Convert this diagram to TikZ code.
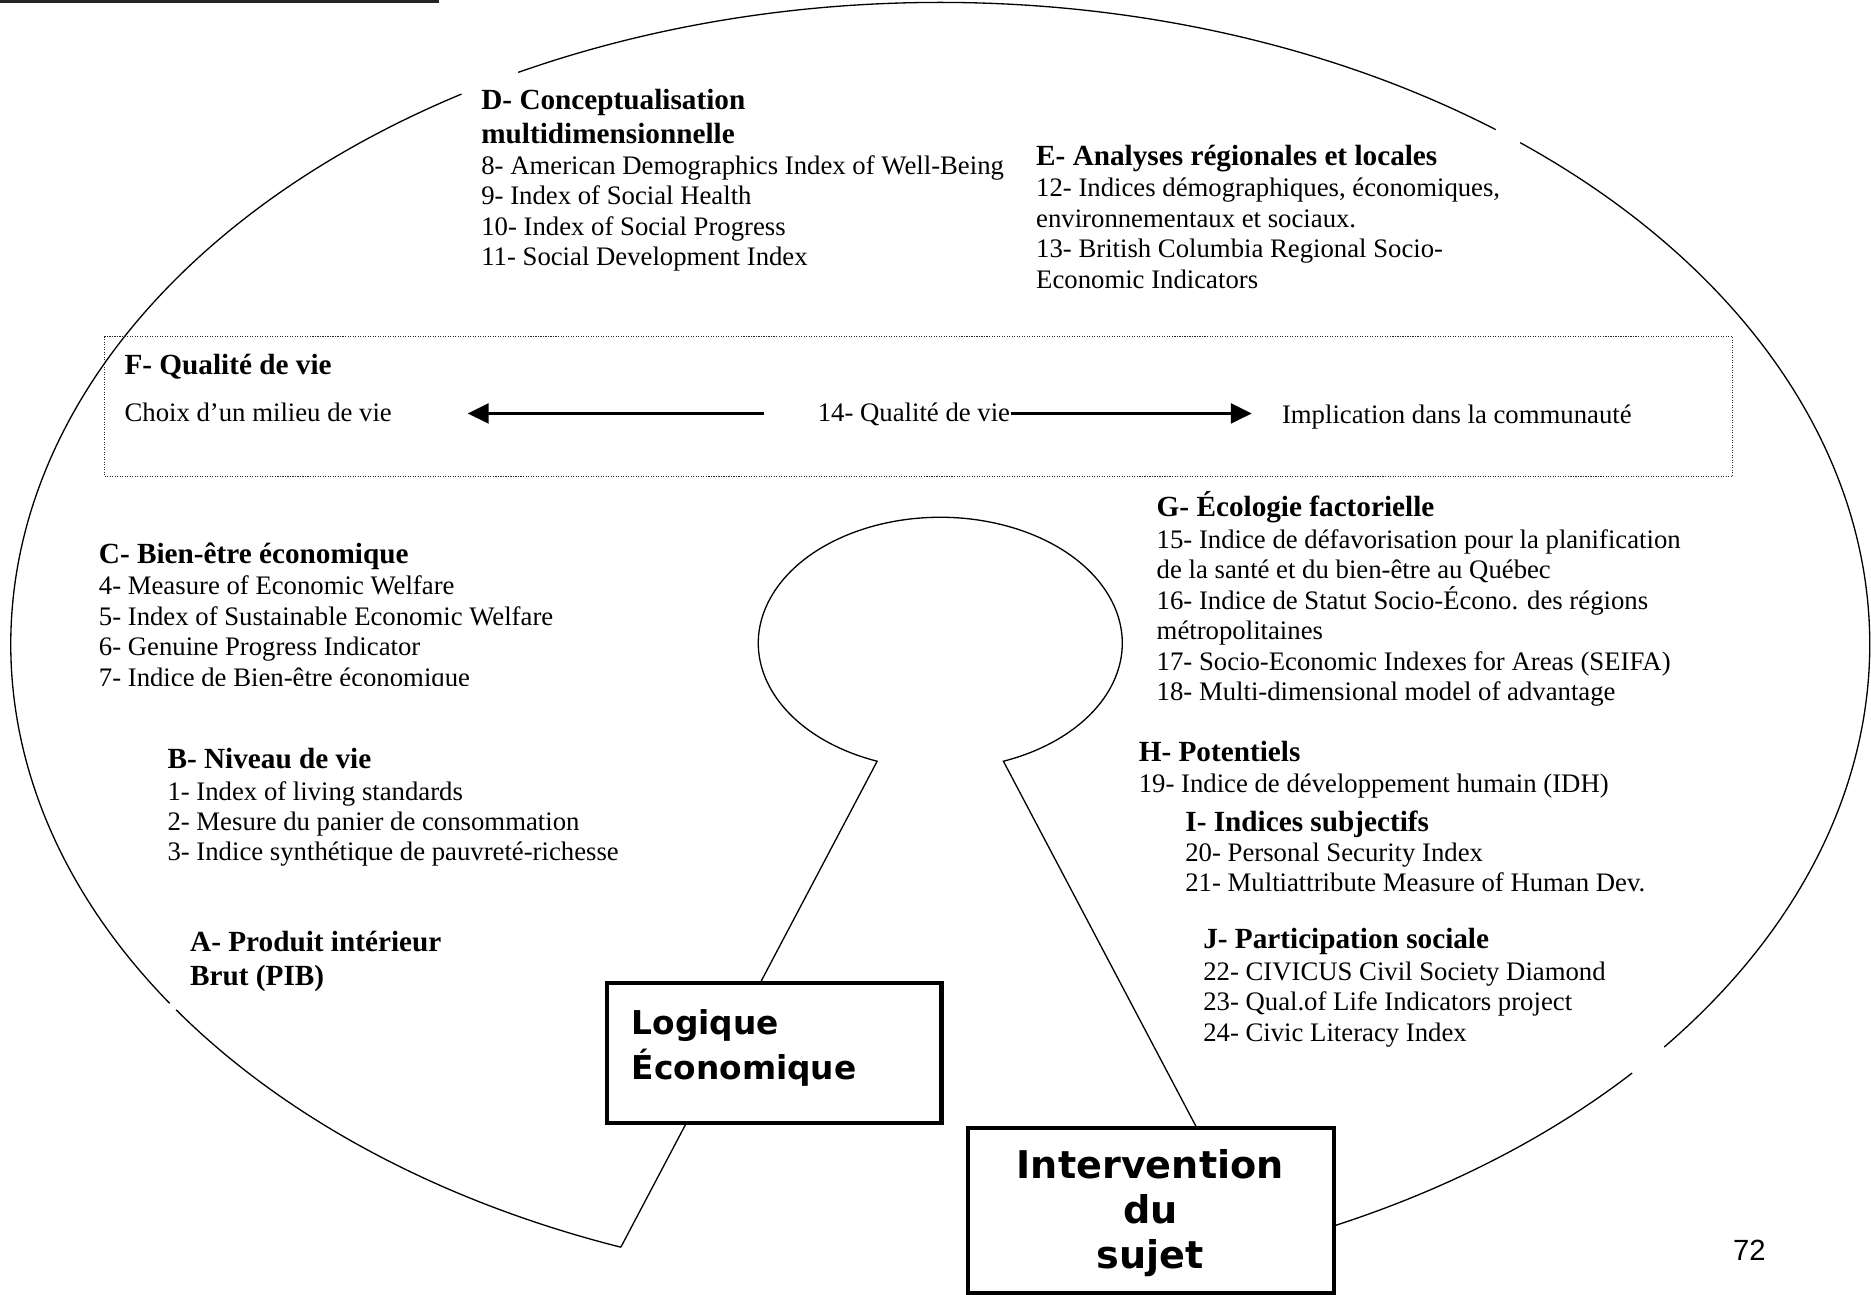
\documentclass[tikz,border=0pt]{standalone}
\usepackage{fontspec}
\setmainfont{Liberation Serif}
\newfontfamily\boxfont{DejaVu Sans}
\newfontfamily\pagefont{Liberation Sans}
\usetikzlibrary{arrows.meta}
\begin{document}
\begin{tikzpicture}[x=0.5pt,y=-0.5pt,
  body/.style={anchor=base west,inner sep=0pt,font=\fontsize{11.2}{13}\selectfont},
  head/.style={anchor=base west,inner sep=0pt,font=\fontsize{12.25}{14}\selectfont\bfseries},
  outline/.style={line width=0.55pt},
  dotbox/.style={line width=0.45pt,dash pattern=on 0.45pt off 0.6pt,black!85},
  arr/.style={line width=0.9pt,-{Triangle[length=8.75pt,width=8.4pt]}},
  bigbox/.style={draw,line width=1.7pt,fill=white,inner sep=0pt},
  boxtxt/.style={inner sep=0pt,font=\boxfont\fontsize{13.75}{17}\selectfont\bfseries},
  boxtxtb/.style={inner sep=0pt,font=\boxfont\fontsize{16}{19}\selectfont\bfseries},
]
\useasboundingbox (0,0) rectangle (1568,1085);

% top-left rule
\draw[line width=1.25pt,black!85] (0,1.5) -- (368,1.5);

% big ellipse (broken where text boxes sit)
\draw[outline] (788,540) ++(110.1:779 and 538) arc[start angle=110.1,end angle=145.3,x radius=779,y radius=538];
\draw[outline] (788,540) ++(146.0:779 and 538) arc[start angle=146.0,end angle=239.0,x radius=779,y radius=538];
\draw[outline] (788,540) ++(243.0:779 and 538) arc[start angle=243.0,end angle=306.7,x radius=779,y radius=538];
\draw[outline] (788,540) ++(308.6:779 and 538) arc[start angle=308.6,end angle=398.85,x radius=779,y radius=538];
\draw[outline] (788,540) ++(401.9:779 and 538) arc[start angle=401.9,end angle=429.9,x radius=779,y radius=538];

% keyhole
\coordinate (kbl) at (520.3,1045.2);
\coordinate (knl) at (735.1,637.95);
\coordinate (kbr) at (1055.7,1045.2);
\draw[outline] (kbl) -- (knl) arc[start angle=110.3,end angle=429.7,x radius=152.5,y radius=105.5] -- (kbr);

% dotted frame F
\draw[dotbox] (87.5,282) rectangle (1452,399.5);

% boxes
\node[bigbox,minimum width=140pt,minimum height=58.5pt] (logbox) at (649,882.5) {};
\node[bigbox,minimum width=153.5pt,minimum height=69.25pt] (intbox) at (964.5,1014.75) {};
\node[boxtxt,anchor=base west] (log1) at (529,866.6) {Logique};
\node[boxtxt,anchor=base west] (log2) at (529,904.6) {Économique};
\node[boxtxtb,anchor=base] (int1) at (964,987.5) {Intervention};
\node[boxtxtb,anchor=base] (int2) at (964,1025.2) {du};
\node[boxtxtb,anchor=base] (int3) at (964,1063) {sujet};

% D
\node[head] (dh1) at (403,92) {D- Conceptualisation};
\node[head] (dh2) at (403,120) {multidimensionnelle};
\foreach \t [count=\i from 0] in {{8- American Demographics Index of Well-Being},{9- Index of Social Health},{10- Index of Social Progress},{11- Social Development Index}}
  \node[body] (d\i) at (403,146+25.5*\i) {\t};

% E
\node[head] (eh) at (868,139) {E- Analyses régionales et locales};
\foreach \t [count=\i from 0] in {{12- Indices démographiques, économiques,},{environnementaux et sociaux.},{13- British Columbia Regional Socio-},{Economic Indicators}}
  \node[body] (e\i) at (868,165+25.5*\i) {\t};

% F
\node[head] (fh) at (104,314) {F- Qualité de vie};
\node[body] (f1) at (104,353) {Choix d’un milieu de vie};
\node[body] (q14) at (685,353) {14- Qualité de vie};
\node[body] (f3) at (1074,355) {Implication dans la communauté};
\coordinate (ltail) at (640,346.5);
\coordinate (ltip) at (392,346.5);
\coordinate (rtip) at (1049,346.5);
\draw[arr] (ltail) -- (ltip);
\draw[arr] (q14.east |- rtip) -- (rtip);

% G
\node[head] (gh) at (969,433) {G- Écologie factorielle};
\foreach \t [count=\i from 0] in {{15- Indice de défavorisation pour la planification},{de la santé et du bien-être au Québec},{16- Indice de Statut Socio-Écono. des régions},{métropolitaines},{17- Socio-Economic Indexes for Areas (SEIFA)},{18- Multi-dimensional model of advantage}}
  \node[body] (g\i) at (969,459.5+25.5*\i) {\t};

% C
\node[head] (ch) at (82.5,472) {C- Bien-être économique};
\foreach \t [count=\i from 0] in {{4- Measure of Economic Welfare},{5- Index of Sustainable Economic Welfare},{6- Genuine Progress Indicator}}
  \node[body] (c\i) at (82.5,498.5+25.5*\i) {\t};
\begin{scope}
  \clip (0,400) rectangle (700,574.8);
  \node[body] (c3) at (82.5,575) {7- Indice de Bien-être économique};
\end{scope}

% B
\node[head] (bh) at (140,644) {B- Niveau de vie};
\foreach \t [count=\i from 0] in {{1- Index of living standards},{2- Mesure du panier de consommation},{3- Indice synthétique de pauvreté-richesse}}
  \node[body] (b\i) at (140,670.5+25.5*\i) {\t};

% A
\node[head] (ah1) at (159,797.5) {A- Produit intérieur};
\node[head] (ah2) at (159,825.5) {Brut (PIB)};

% H
\node[head] (hh) at (954,638.5) {H- Potentiels};
\node[body] (h0) at (954,664) {19- Indice de développement humain (IDH)};

% I
\node[head] (ih) at (993,697) {I- Indices subjectifs};
\node[body] (i0) at (993,722) {20- Personal Security Index};
\node[body] (i1) at (993,747.5) {21- Multiattribute Measure of Human Dev.};

% J
\node[head] (jh) at (1008,795) {J- Participation sociale};
\foreach \t [count=\i from 0] in {{22- CIVICUS Civil Society Diamond},{23- Qual.of Life Indicators project},{24- Civic Literacy Index}}
  \node[body] (j\i) at (1008,821.5+25.5*\i) {\t};

% page number
\node[anchor=base west,inner sep=0pt,font=\pagefont\fontsize{12.25}{14}\selectfont] (pg) at (1452,1056) {72};
\end{tikzpicture}
\end{document}
